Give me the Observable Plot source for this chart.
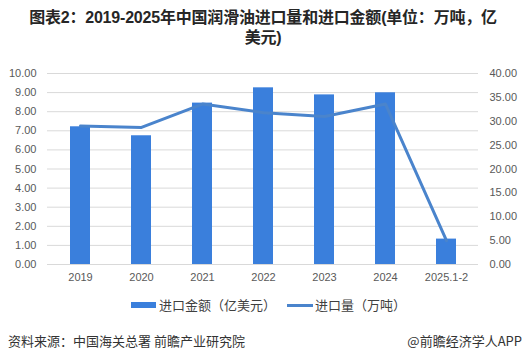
<!DOCTYPE html>
<html><head><meta charset="utf-8">
<script src="https://cdn.jsdelivr.net/npm/d3@7"></script>
<script src="https://cdn.jsdelivr.net/npm/@observablehq/plot@0.6"></script>
<style>
html,body{margin:0;padding:0;background:#fff;}
#root{position:relative;width:526px;height:363px;overflow:hidden;font-family:"Noto Sans CJK SC","Liberation Sans",sans-serif;}
#title{position:absolute;left:0;top:8px;width:526px;text-align:center;font-weight:bold;font-size:16px;line-height:20px;color:#262626;font-family:"Liberation Sans","Noto Sans CJK SC",sans-serif;letter-spacing:-0.2px;}
#chart{position:absolute;left:0;top:55px;}
.leg{position:absolute;top:296px;font-size:13px;color:#404040;line-height:18px;}
.src{position:absolute;top:331px;font-size:13px;color:#333;line-height:20px;}
</style></head>
<body><div id="root">
<div id="title">图表2：2019-2025年中国润滑油进口量和进口金额(单位：万吨，亿<br>美元)</div>
<div id="chart"></div>
<div class="leg" style="left:131px;"><span style="display:inline-block;width:25px;height:6px;background:#3a7fdc;vertical-align:middle;margin-right:3px;position:relative;top:-1px;"></span>进口金额（亿美元）</div>
<div class="leg" style="left:287px;"><span style="display:inline-block;width:26px;height:3px;background:#4a84cc;vertical-align:middle;margin-right:2px;position:relative;top:-1px;"></span>进口量（万吨）</div>
<div class="src" style="left:8px;">资料来源：中国海关总署 前瞻产业研究院</div>
<div class="src" style="right:4px;">@前瞻经济学人APP</div>
</div>
<script>
const categories = ["2019","2020","2021","2022","2023","2024","2025.1-2"];
const importValue = [7.21, 6.74, 8.45, 9.25, 8.88, 8.99, 1.33];   // 亿美元
const importVolume = [29.0, 28.7, 33.6, 31.8, 31.0, 33.6, 5.0];   // 万吨
const leftTicks = [0,1,2,3,4,5,6,7,8,9,10];
const rightTicks = [0,5,10,15,20,25,30,35,40];
const ratio = 4; // right axis max 40 vs left 10

const rows = categories.map((c,i)=>({cat:c, value:importValue[i], volume:importVolume[i]}));

const chart = Plot.plot({
  width: 526, height: 235,
  marginLeft: 47, marginRight: 48, marginTop: 18, marginBottom: 26,
  style: {fontFamily: "'Liberation Sans','Noto Sans CJK SC',sans-serif", fontSize: "11px", color: "#595959", background: "#fff"},
  x: {domain: categories, paddingInner: 0.675, paddingOuter: 0.3375, label: null},
  y: {domain: [0,10], label: null},
  marks: [
    Plot.ruleY(leftTicks, {stroke: "#d9d9d9", strokeWidth: 1}),
    Plot.barY(rows, {x: "cat", y: "value", fill: "#3a7fdc"}),
    Plot.line(rows, {x: "cat", y: d => d.volume / ratio, stroke: "#4a84cc", strokeWidth: 3}),
    Plot.axisY(leftTicks, {anchor: "left", tickSize: 0, tickPadding: 11, tickFormat: d => d.toFixed(2), label: null, fill: "#595959"}),
    Plot.axisY(rightTicks.map(v => v / ratio), {anchor: "right", tickSize: 0, tickPadding: 11, tickFormat: d => (d*ratio).toFixed(2), label: null, fill: "#595959"}),
    Plot.axisX({tickSize: 0, tickPadding: 9, label: null, fill: "#595959"})
  ]
});
document.getElementById("chart").appendChild(chart);
</script>
</body></html>
